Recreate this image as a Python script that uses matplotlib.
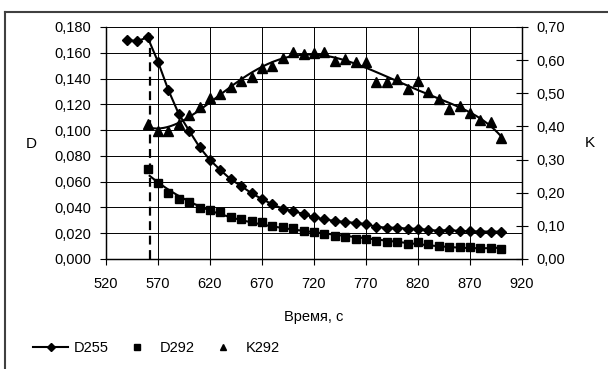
import numpy as np
import matplotlib
matplotlib.use("Agg")
import matplotlib.pyplot as plt
from matplotlib.lines import Line2D

plt.rcParams['font.family'] = ['Liberation Sans', 'DejaVu Sans']

# время, с
t_d255 = [540, 550, 560, 570, 580, 590, 600, 610, 620, 630, 640, 650, 660, 670, 680,
          690, 700, 710, 720, 730, 740, 750, 760, 770, 780, 790, 800, 810, 820, 830,
          840, 850, 860, 870, 880, 890, 900]
d255 = [0.170, 0.169, 0.172, 0.153, 0.131, 0.1125, 0.0995, 0.0867, 0.0768, 0.069,
        0.0618, 0.0566, 0.051, 0.0465, 0.0424, 0.039, 0.0372, 0.0349, 0.0323, 0.0308,
        0.0295, 0.0287, 0.028, 0.027, 0.025, 0.0243, 0.0243, 0.0235, 0.0235, 0.0225,
        0.022, 0.0225, 0.0217, 0.0215, 0.0213, 0.0213, 0.0212]

t_292 = [560, 570, 580, 590, 600, 610, 620, 630, 640, 650, 660, 670, 680, 690, 700,
         710, 720, 730, 740, 750, 760, 770, 780, 790, 800, 810, 820, 830, 840, 850,
         860, 870, 880, 890, 900]
d292 = [0.0696, 0.0592, 0.051, 0.0463, 0.0442, 0.0393, 0.0378, 0.0362, 0.0323, 0.0313,
        0.0295, 0.0287, 0.0256, 0.0246, 0.0238, 0.0217, 0.0207, 0.0194, 0.0181, 0.0168,
        0.0158, 0.0158, 0.0142, 0.0132, 0.0132, 0.0116, 0.0132, 0.0116, 0.0101, 0.0093,
        0.0093, 0.0096, 0.0085, 0.0085, 0.0075]
k292 = [0.407, 0.386, 0.386, 0.407, 0.435, 0.46, 0.485, 0.497, 0.52, 0.537,
        0.55, 0.577, 0.583, 0.606, 0.624, 0.618, 0.621, 0.624, 0.597, 0.603,
        0.595, 0.593, 0.535, 0.533, 0.544, 0.514, 0.537, 0.505, 0.482, 0.453,
        0.462, 0.44, 0.419, 0.414, 0.364]

t_start = 562
d_ticks = np.arange(0, 0.1801, 0.02)
k_ticks = np.arange(0, 0.701, 0.1)
t_ticks = np.arange(520, 921, 50)

fs = 10.5

fig = plt.figure(figsize=(6.08, 3.69), dpi=100)
ax = fig.add_axes([106 / 608, 1 - 259 / 369, 416 / 608, 232 / 369])
ax2 = ax.twinx()

# полиномиальные линии тренда для D292 и K292
tt = np.array(t_292, dtype=float)
tx = np.linspace(t_start, 900, 200)
xn = (tt - 730) / 170
d_poly = np.polyfit(xn, d292, 4)
d292_fit = np.polyval(d_poly, (tx - 730) / 170)
k_poly = np.polyfit(xn, k292, 6)
k292_fit = np.polyval(k_poly, (tx - 730) / 170)

ax.plot(t_d255, d255, color='black', lw=1.5, marker='D', ms=5, zorder=5)
ax.plot(t_292, d292, ls='none', color='black', marker='s', ms=5.5, zorder=5)
ax.plot(tx, d292_fit, color='black', lw=1.5, zorder=4)
ax2.plot(t_292, k292, ls='none', color='black', marker='^', ms=6.5, zorder=5)
ax2.plot(tx, k292_fit, color='black', lw=1.5, zorder=4)

ax.axvline(t_start, color='black', lw=1.6, ls=(0, (4, 2.5)), zorder=6)

ax.set_xlim(520, 920)
ax.set_ylim(0, 0.18)
ax2.set_ylim(0, 0.7)
ax.set_xticks(t_ticks)
ax.set_yticks(d_ticks)
ax2.set_yticks(k_ticks)
ax.set_yticklabels([f"{v:.3f}".replace('.', ',') for v in d_ticks])
ax2.set_yticklabels([f"{v:.2f}".replace('.', ',') for v in k_ticks])
ax.grid(True, color='black', lw=0.7)
ax.set_axisbelow(True)

for a_ in (ax, ax2):
    a_.spines['top'].set_visible(False)
    for s in ('left', 'right', 'bottom'):
        a_.spines[s].set_linewidth(0.9)
ax.tick_params(axis='y', direction='out', length=4.5, labelsize=fs, pad=6)
ax.tick_params(axis='x', direction='out', length=4.5, labelsize=fs, pad=8.5)
ax2.tick_params(axis='y', direction='inout', length=8, labelsize=fs, pad=6)

fig.text(313.5 / 608, 1 - 317.5 / 369, 'Время, с', fontsize=fs, ha='center', va='center')
fig.text(31.7 / 608, 1 - 144 / 369, 'D', fontsize=11, ha='center', va='center')
fig.text(590 / 608, 1 - 143 / 369, 'K', fontsize=11, ha='center', va='center')

handles = [
    Line2D([], [], color='black', lw=1.5, marker='D', ms=4),
    Line2D([], [], ls='none', color='black', marker='s', ms=4.5),
    Line2D([], [], ls='none', color='black', marker='^', ms=5),
]
fig.legend(handles, ['D255', 'D292', 'K292'], loc='center left',
           bbox_to_anchor=(20 / 608, 1 - 348 / 369), ncol=3, frameon=False,
           fontsize=fs, handlelength=2.4, handletextpad=0.4, columnspacing=0.7)

# рамка области диаграммы
fig.add_artist(Line2D([5 / 608, 1], [1 - 12 / 369] * 2, color='#404040', lw=1.5))
fig.add_artist(Line2D([5 / 608] * 2, [0, 1 - 12 / 369], color='#404040', lw=1.5))

fig.savefig('out.png', dpi=100)
